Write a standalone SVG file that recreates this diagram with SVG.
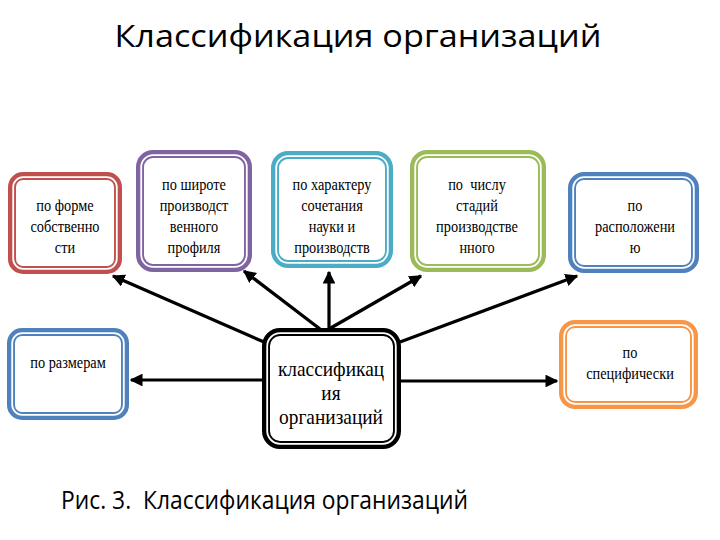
<svg xmlns="http://www.w3.org/2000/svg" width="720" height="540" viewBox="0 0 720 540">
<defs>
<style>
.box{fill:#fff;stroke-width:8}
.inner{fill:none;stroke:#fff;stroke-width:1.8}
.t{font-family:"Liberation Serif","DejaVu Serif","Times New Roman",serif;font-size:17.5px;text-anchor:middle;fill:#000}
.tc{font-family:"Liberation Serif","DejaVu Serif","Times New Roman",serif;font-size:22px;text-anchor:middle;fill:#000}
.conn{stroke:#000;stroke-width:3.2;fill:none;marker-end:url(#ah)}
.hdr{font-family:"Open Sans","Noto Sans",sans-serif;fill:#000}
</style>
<marker id="ah" viewBox="0 0 10 10" refX="9" refY="5" markerWidth="4" markerHeight="4" orient="auto" markerUnits="strokeWidth">
<path d="M0,0 L10,5 L0,10 z" fill="#000"/>
</marker>
</defs>
<rect width="720" height="540" fill="#fff"/>
<text class="hdr" x="358" y="47" font-size="31" text-anchor="middle" textLength="487" lengthAdjust="spacingAndGlyphs">Классификация организаций</text>

<g id="connectors">
<line class="conn" x1="264" y1="342" x2="113" y2="276"/>
<line class="conn" x1="320" y1="329" x2="244" y2="271"/>
<line class="conn" x1="329" y1="329" x2="329" y2="272"/>
<line class="conn" x1="329" y1="329" x2="421" y2="276"/>
<line class="conn" x1="400" y1="342" x2="577" y2="276"/>
<line class="conn" x1="263" y1="380" x2="131" y2="380"/>
<line class="conn" x1="400" y1="381" x2="557" y2="381"/>
</g>

<g id="n-forma">
<rect class="box" x="12" y="176" width="106" height="94" rx="11" stroke="#c0504d"/>
<rect class="inner" x="13.2" y="177.2" width="103.6" height="91.6" rx="10"/>
<g transform="translate(65,0) scale(0.82,1)">
<text class="t" x="0" y="211">по форме</text>
<text class="t" x="0" y="232">собственно</text>
<text class="t" x="0" y="253">сти</text>
</g>
</g>

<g id="n-shirota">
<rect class="box" x="140" y="154" width="108" height="114" rx="13" stroke="#8064a2"/>
<rect class="inner" x="141.2" y="155.2" width="105.6" height="111.6" rx="12"/>
<g transform="translate(194,0) scale(0.82,1)">
<text class="t" x="0" y="190">по широте</text>
<text class="t" x="0" y="211">производст</text>
<text class="t" x="0" y="232">венного</text>
<text class="t" x="0" y="253">профиля</text>
</g>
</g>

<g id="n-harakter">
<rect class="box" x="275" y="155" width="114" height="109" rx="13" stroke="#4bacc6"/>
<rect class="inner" x="276.2" y="156.2" width="111.6" height="106.6" rx="12"/>
<g transform="translate(332,0) scale(0.82,1)">
<text class="t" x="0" y="190">по характеру</text>
<text class="t" x="0" y="211">сочетания</text>
<text class="t" x="0" y="232">науки и</text>
<text class="t" x="0" y="253">производств</text>
</g>
</g>

<g id="n-stadii">
<rect class="box" x="414" y="154" width="128" height="114" rx="13" stroke="#9bbb59"/>
<rect class="inner" x="415.2" y="155.2" width="125.6" height="111.6" rx="12"/>
<g transform="translate(477,0) scale(0.82,1)">
<text class="t" x="0" y="190" xml:space="preserve">по  числу</text>
<text class="t" x="0" y="211">стадий</text>
<text class="t" x="0" y="232">производстве</text>
<text class="t" x="0" y="253">нного</text>
</g>
</g>

<g id="n-raspolozhenie">
<rect class="box" x="572" y="176" width="123" height="93" rx="12" stroke="#4f81bd"/>
<rect class="inner" x="573.2" y="177.2" width="120.6" height="90.6" rx="11"/>
<g transform="translate(635,0) scale(0.82,1)">
<text class="t" x="0" y="211">по</text>
<text class="t" x="0" y="232">расположени</text>
<text class="t" x="0" y="253">ю</text>
</g>
</g>

<g id="n-razmery">
<rect class="box" x="11" y="332" width="114" height="84" rx="11" stroke="#4f81bd"/>
<rect class="inner" x="12.2" y="333.2" width="111.6" height="81.6" rx="10"/>
<g transform="translate(68,0) scale(0.82,1)">
<text class="t" x="0" y="368">по размерам</text>
</g>
</g>

<g id="n-specifika">
<rect class="box" x="563" y="324" width="131" height="81" rx="12" stroke="#f79646"/>
<rect class="inner" x="564.2" y="325.2" width="128.6" height="78.6" rx="11"/>
<g transform="translate(630,0) scale(0.82,1)">
<text class="t" x="0" y="358">по</text>
<text class="t" x="0" y="379">специфически</text>
</g>
</g>

<g id="n-center">
<rect class="box" x="266" y="332" width="131" height="113" rx="14" stroke="#000"/>
<rect class="inner" x="267.2" y="333.2" width="128.6" height="110.6" rx="13"/>
<g transform="translate(331,0) scale(0.88,1)">
<text class="tc" x="0" y="376">классификац</text>
<text class="tc" x="0" y="400">ия</text>
<text class="tc" x="0" y="424">организаций</text>
</g>
</g>

<text class="hdr" x="61" y="509" font-size="26" textLength="407" lengthAdjust="spacingAndGlyphs" xml:space="preserve">Рис. 3.  Классификация организаций</text>
</svg>
